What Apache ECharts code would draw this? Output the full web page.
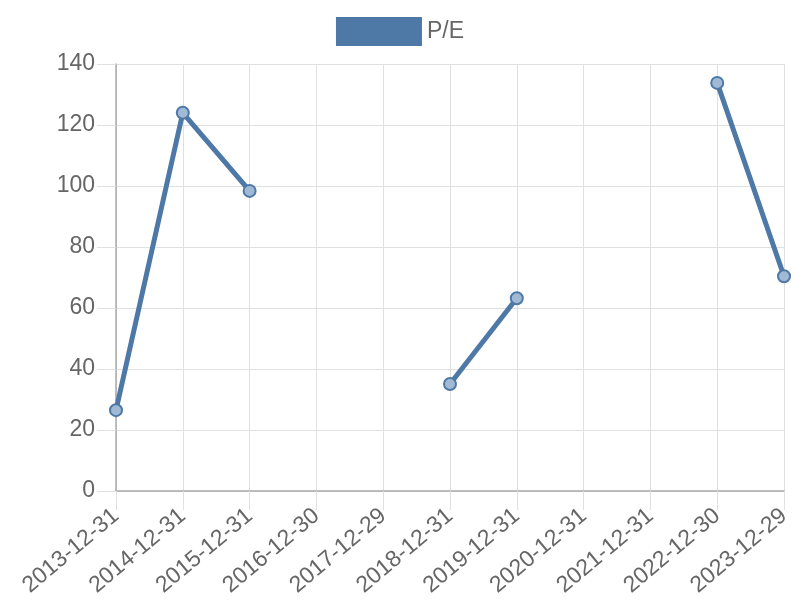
<!DOCTYPE html>
<html>
<head>
<meta charset="utf-8">
<script src="https://cdn.jsdelivr.net/npm/echarts@6/dist/echarts.min.js"></script>
<style>html,body{margin:0;padding:0;background:#fff;}#c{width:800px;height:600px;}</style>
</head>
<body>
<div id="c"></div>
<script>
const categories = ['2013-12-31','2014-12-31','2015-12-31','2016-12-30','2017-12-29','2018-12-31','2019-12-31','2020-12-31','2021-12-31','2022-12-30','2023-12-29'];
const peValues = [26.5, 124, 98.4, null, null, 35.1, 63.2, null, null, 133.8, 70.4];
const seriesName = 'P/E';

const chart = echarts.init(document.getElementById('c'));
const font = '"Liberation Sans", Arial, Helvetica, sans-serif';
chart.setOption({
  animation: false,
  textStyle: {fontFamily: font},
  legend: {
    top: 17, left: 'center', padding: 0,
    itemWidth: 86, itemHeight: 29, itemGap: 10,
    icon: 'rect',
    textStyle: {fontSize: 23, color: '#666', fontFamily: font},
    data: [{name: seriesName, itemStyle: {color: '#4e79a7', borderWidth: 0}}]
  },
  grid: {left: 116, right: 16, top: 64, bottom: 109, containLabel: false},
  xAxis: {
    type: 'category', data: categories, boundaryGap: false,
    axisLine: {lineStyle: {color: '#aaa', width: 1.5}},
    axisTick: {show: true, length: 19, alignWithLabel: true, lineStyle: {color: '#e0e0e0'}},
    splitLine: {show: true, lineStyle: {color: '#e0e0e0'}},
    axisLabel: {rotate: 40, fontSize: 23, color: '#666', margin: 22, interval: 0, fontFamily: font}
  },
  yAxis: {
    type: 'value', min: 0, max: 140, interval: 20,
    axisLine: {show: true, lineStyle: {color: '#aaa', width: 1.5}},
    axisTick: {show: true, length: 19, lineStyle: {color: '#e0e0e0'}},
    splitLine: {show: true, lineStyle: {color: '#e0e0e0'}},
    axisLabel: {fontSize: 23, color: '#666', margin: 21, fontFamily: font}
  },
  series: [{
    name: seriesName, type: 'line', data: peValues,
    connectNulls: false,
    lineStyle: {color: '#4e79a7', width: 5},
    symbol: 'circle', symbolSize: 12,
    itemStyle: {color: 'rgba(160,185,212,1)', borderColor: '#4e79a7', borderWidth: 2}
  }]
});
</script>
</body>
</html>
